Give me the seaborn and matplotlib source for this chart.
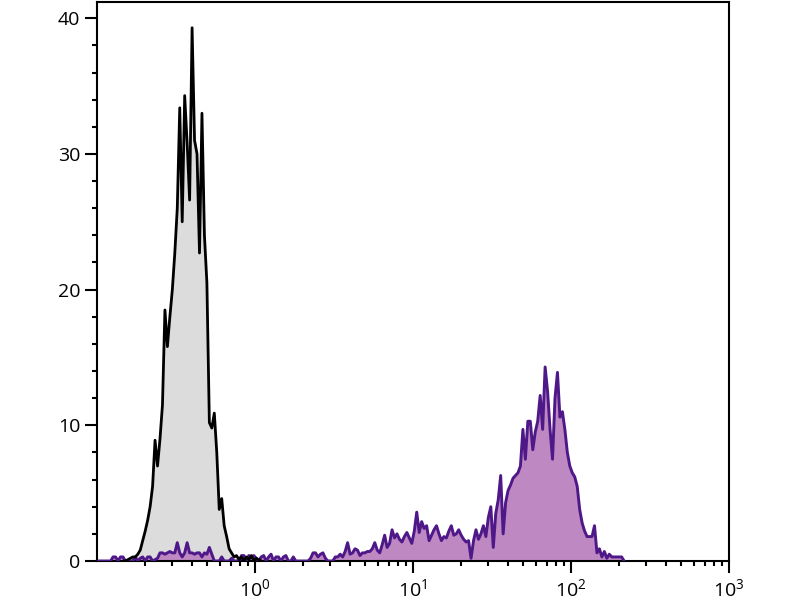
import numpy as np
import matplotlib
matplotlib.use("Agg")
import matplotlib.pyplot as plt
import seaborn as sns
from matplotlib.ticker import FixedLocator, FixedFormatter, NullFormatter

# ---- channel grid (log-scaled flow cytometry channels) ----
CH_PER_DECADE = 64
LOG_MIN = -1.0
GRAY_START = 10     # first channel of the control histogram
PURPLE_START = 0    # first channel of the stained histogram

# control (isotype) histogram, counts per channel
gray_counts = [
    0, 0, 0.1, 0.2, 0.3, 0.3, 0.5, 0.8, 1.5, 2.2,
    3.0, 4.0, 5.5, 8.9, 7.0, 9.0, 11.5, 18.5, 15.8, 18.0,
    20.0, 22.7, 26.0, 33.4, 25.0, 34.3, 30.8, 26.6, 39.3, 31.0,
    30.0, 22.7, 33.0, 24.0, 20.5, 10.2, 9.8, 10.9, 8.0, 3.8,
    4.6, 2.6, 1.8, 0.9, 0.6, 0.3, 0.4, 0.1, 0.3, 0,
    0.3, 0.1, 0.4, 0, 0.2, 0.1, 0,
]

# stained histogram, counts per channel
purple_counts = [
    0, 0, 0, 0, 0, 0, 0.3, 0.3, 0, 0.3,
    0.3, 0, 0, 0, 0, 0.3, 0, 0.2, 0.3, 0,
    0.3, 0.3, 0, 0.1, 0.2, 0.6, 0.6, 0.5, 0.6, 0.7,
    0.6, 0.6, 1.35, 0.6, 0.3, 0.6, 1.35, 0.6, 0.6, 0.5,
    0.6, 0.6, 0.3, 0.6, 0.5, 1.0, 0.5, 0, 0, 0,
    0.3, 0, 0, 0, 0.2, 0, 0, 0, 0.4, 0.4,
    0, 0.4, 0.3, 0.4, 0.2, 0, 0.3, 0.4, 0, 0.3,
    0.5, 0, 0.3, 0.3, 0, 0.3, 0.4, 0, 0, 0.3,
    0, 0, 0, 0, 0, 0, 0.2, 0.6, 0.6, 0.3,
    0.5, 0.6, 0.2, 0, 0, 0, 0.3, 0.3, 0.5, 0.3,
    0.7, 1.35, 0.5, 0.6, 0.9, 0.8, 0.4, 0.6, 0.6, 0.7,
    0.7, 0.9, 1.35, 0.8, 0.6, 1.2, 1.9, 1.0, 1.3, 2.3,
    1.7, 2.0, 1.6, 1.4, 1.8, 2.1, 1.7, 1.3, 2.2, 3.6,
    2.1, 2.9, 2.4, 2.6, 1.5, 1.9, 2.3, 2.6, 2.0, 1.5,
    1.8, 1.7, 2.2, 2.6, 1.9, 2.0, 2.3, 1.9, 1.6, 1.4,
    1.5, 0.2, 1.5, 2.3, 1.6, 2.0, 2.6, 1.8, 3.2, 4.0,
    1.0, 3.5, 4.5, 6.3, 2.0, 4.3, 5.2, 5.6, 6.1, 6.3,
    6.5, 7.0, 9.7, 7.5, 10.3, 10.3, 8.2, 9.5, 10.3, 12.2,
    9.7, 14.3, 12.5, 9.7, 7.5, 12.0, 13.9, 10.6, 11.0, 9.7,
    8.0, 7.0, 6.5, 6.2, 5.5, 3.8, 2.8, 2.2, 1.8, 1.8,
    1.8, 2.6, 0.6, 0.9, 0.3, 0.7, 0.2, 0.5, 0.3, 0.3,
    0.3, 0.3, 0.3, 0,
]

x_ticks = [1, 10, 100, 1000]
x_tick_labels = ["$10^{0}$", "$10^{1}$", "$10^{2}$", "$10^{3}$"]
x_minor = [m * d for d in (0.1, 1, 10, 100) for m in range(2, 10)]
y_ticks = [0, 10, 20, 30, 40]
y_minor = [v for v in range(2, 41, 2) if v % 10]


def channel_x(start, n):
    idx = np.arange(start, start + n) + 0.5
    return 10 ** (LOG_MIN + idx / CH_PER_DECADE)


sns.set_theme(style="ticks")
plt.rcParams['font.family'] = ['Open Sans', 'DejaVu Sans']
plt.rcParams['mathtext.fontset'] = 'custom'
plt.rcParams['mathtext.rm'] = 'Open Sans'
plt.rcParams['mathtext.it'] = 'Open Sans:italic'
plt.rcParams['mathtext.default'] = 'regular'

fig = plt.figure(figsize=(8, 6), dpi=100)
ax = fig.add_axes([0.1213, 0.065, 0.79, 0.9317])
ax.set_xscale('log')

xg = channel_x(GRAY_START, len(gray_counts))
xp = channel_x(PURPLE_START, len(purple_counts))
yg = np.array(gray_counts, dtype=float)
yp = np.array(purple_counts, dtype=float)

ax.fill_between(xg, yg, 0, color='#dcdcdc', lw=0, zorder=1)
ax.fill_between(xp, yp, 0, color='#be88c2', lw=0, zorder=2)
sns.lineplot(x=xp, y=yp, ax=ax, color='#4e1889', lw=2.1,
             estimator=None, sort=False, zorder=3)
sns.lineplot(x=xg, y=yg, ax=ax, color='black', lw=2.0,
             estimator=None, sort=False, zorder=4)

ax.set_xlim(0.1, 1000)
ax.set_ylim(0, 41.2)

ax.xaxis.set_major_locator(FixedLocator(x_ticks))
ax.xaxis.set_major_formatter(FixedFormatter(x_tick_labels))
ax.xaxis.set_minor_locator(FixedLocator(x_minor))
ax.xaxis.set_minor_formatter(NullFormatter())
ax.yaxis.set_major_locator(FixedLocator(y_ticks))
ax.yaxis.set_minor_locator(FixedLocator(y_minor))

ax.tick_params(axis='both', which='major', direction='out', length=8.6,
               width=1.5, color='black', labelsize=14, labelcolor='black',
               pad=3.6)
ax.tick_params(axis='both', which='minor', direction='out', length=3.6,
               width=1.5, color='black')
ax.tick_params(top=False, right=False, which='both')

for s in ax.spines.values():
    s.set_visible(True)
    s.set_linewidth(1.5)
    s.set_color('black')

ax.set_xlabel('')
ax.set_ylabel('')
ax.grid(False)
ax.set_facecolor('white')

fig.savefig('out.png', dpi=100, facecolor='white')
